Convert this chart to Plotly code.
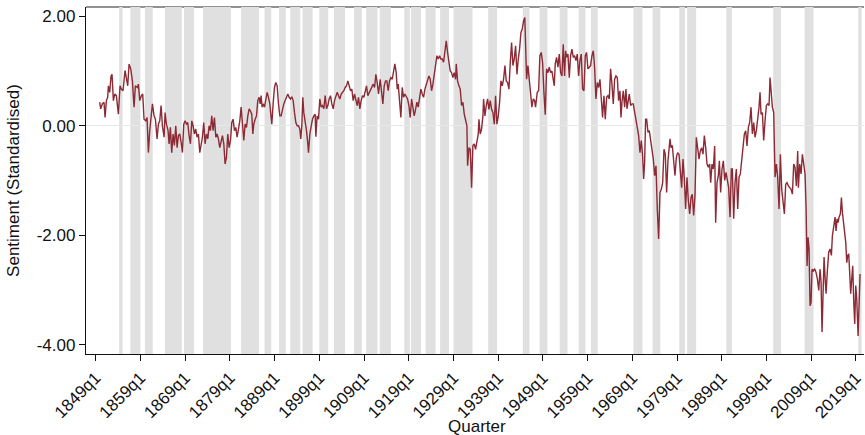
import plotly.graph_objects as go

# Time (decimal years, quarter resolution) and standardised sentiment values
quarter_time = [
    1849.89, 1850.12, 1850.49, 1850.86, 1851.09, 1851.39, 1851.68, 1851.83, 1852.13, 1852.43,
    1852.65, 1852.95, 1853.25, 1853.62, 1854.07, 1854.44, 1854.74, 1855.11, 1855.56, 1855.86,
    1856.16, 1856.46, 1856.83, 1857.20, 1857.58, 1857.87, 1858.32, 1858.55, 1858.84, 1859.22,
    1859.51, 1859.81, 1860.19, 1860.48, 1860.78, 1861.08, 1861.38, 1861.68, 1862.05, 1862.35,
    1862.72, 1863.02, 1863.32, 1863.62, 1863.91, 1864.29, 1864.51, 1864.81, 1865.18, 1865.41,
    1865.70, 1866.00, 1866.30, 1866.60, 1866.90, 1867.20, 1867.49, 1867.79, 1868.16, 1868.39,
    1868.69, 1868.99, 1869.28, 1869.58, 1869.88, 1870.18, 1870.48, 1870.77, 1871.07, 1871.37,
    1871.67, 1871.97, 1872.27, 1872.56, 1872.86, 1873.16, 1873.46, 1873.76, 1874.06, 1874.35,
    1874.65, 1874.95, 1875.25, 1875.55, 1875.85, 1876.14, 1876.44, 1876.74, 1877.04, 1877.34,
    1877.64, 1877.93, 1878.23, 1878.53, 1878.83, 1879.13, 1879.43, 1879.72, 1880.02,
    1880.32, 1880.62, 1880.92, 1881.22, 1881.52, 1881.81, 1882.11, 1882.41, 1882.71, 1883.01,
    1883.31, 1883.60, 1883.90, 1884.13, 1884.35, 1884.65, 1884.95, 1885.24, 1885.54, 1885.77,
    1885.99, 1886.21, 1886.44, 1886.74, 1887.03, 1887.33, 1887.63, 1887.93, 1888.23, 1888.38,
    1888.67, 1888.97, 1889.27, 1889.57, 1889.87, 1890.17, 1890.46, 1890.76, 1891.06, 1891.36,
    1891.66, 1891.96, 1892.25, 1892.55, 1892.85, 1893.15, 1893.45, 1893.75, 1894.04, 1894.34,
    1894.64, 1894.86, 1895.09, 1895.31, 1895.53, 1895.83, 1896.13, 1896.43, 1896.58, 1896.88,
    1897.18, 1897.47, 1897.77, 1898.07, 1898.22, 1898.52, 1898.82, 1899.11, 1899.41, 1899.71,
    1900.01, 1900.31, 1900.61, 1900.90, 1901.20, 1901.50, 1901.80, 1902.10, 1902.40, 1902.69,
    1902.99, 1903.29, 1903.59, 1903.89, 1904.19, 1904.48, 1904.78, 1905.08, 1905.38, 1905.68,
    1905.98, 1906.27, 1906.57, 1906.87, 1907.17, 1907.47, 1907.77, 1908.06, 1908.36, 1908.66,
    1908.96, 1909.26, 1909.55, 1909.85, 1910.15, 1910.45, 1910.75, 1911.05, 1911.35, 1911.64,
    1911.94, 1912.24,
    1912.61, 1912.91, 1913.21, 1913.51, 1913.81, 1914.10, 1914.40, 1914.70, 1915.00, 1915.30,
    1915.60, 1915.89, 1916.19, 1916.42, 1916.64, 1916.94, 1917.24, 1917.53, 1917.83, 1918.13,
    1918.43, 1918.73, 1919.03, 1919.32, 1919.62, 1919.92, 1920.22, 1920.52, 1920.82, 1921.11,
    1921.41, 1921.71, 1922.01, 1922.31, 1922.61, 1922.90, 1923.20, 1923.50, 1923.80, 1924.10,
    1924.40, 1924.69, 1924.99, 1925.29, 1925.59, 1925.89, 1926.18, 1926.48, 1926.78, 1927.08,
    1927.38, 1927.68, 1927.97, 1928.27, 1928.57, 1928.87, 1929.17, 1929.47, 1929.62, 1929.91,
    1930.21, 1930.51, 1930.81, 1931.11, 1931.41, 1931.70, 1932.00, 1932.15, 1932.45, 1932.75,
    1933.05, 1933.34, 1933.64, 1933.94, 1934.24, 1934.54, 1934.69, 1934.98, 1935.28, 1935.58,
    1935.73, 1936.03, 1936.33, 1936.63, 1936.92, 1937.22, 1937.52, 1937.82, 1938.12, 1938.41,
    1938.71, 1939.01, 1939.31, 1939.61, 1939.91, 1940.20, 1940.50, 1940.80, 1941.10, 1941.40,
    1941.70, 1941.99, 1942.29, 1942.59, 1942.89, 1943.19, 1943.49, 1943.78, 1944.08, 1944.38,
    1944.68, 1944.95,
    1945.34, 1945.64, 1945.94, 1946.24, 1946.53, 1946.83, 1947.13, 1947.35, 1947.73, 1948.03,
    1948.32, 1948.62, 1948.92, 1949.22, 1949.52, 1949.82, 1950.11, 1950.41, 1950.71, 1951.01,
    1951.31, 1951.53, 1951.75, 1952.05, 1952.35, 1952.65, 1952.95, 1953.25, 1953.54, 1953.84,
    1954.07, 1954.29, 1954.59, 1954.89, 1955.18, 1955.48, 1955.78, 1956.08, 1956.38, 1956.68,
    1956.97, 1957.27, 1957.57, 1957.87, 1958.17, 1958.47, 1958.76, 1959.06, 1959.36, 1959.66,
    1959.96, 1960.26, 1960.55, 1960.85, 1961.15, 1961.45, 1961.75, 1962.05, 1962.34, 1962.64,
    1962.94, 1963.24, 1963.54, 1963.84, 1964.13, 1964.43, 1964.73, 1965.03, 1965.33, 1965.63,
    1965.92, 1966.22, 1966.45, 1966.67, 1966.97, 1967.27, 1967.56, 1967.79, 1968.01, 1968.31,
    1968.61, 1968.91, 1969.20, 1969.50, 1969.80, 1970.10, 1970.40, 1970.70, 1970.99, 1971.29,
    1971.52, 1971.74, 1971.96, 1972.19, 1972.49, 1972.78, 1973.08, 1973.38, 1973.68, 1973.98,
    1974.28, 1974.57, 1974.87, 1975.17, 1975.47, 1975.77, 1976.07, 1976.36, 1976.66, 1976.96,
    1977.26,
    1977.41, 1977.63, 1977.93, 1978.23, 1978.53, 1978.83, 1979.12, 1979.42, 1979.72, 1980.02,
    1980.32, 1980.62, 1980.91, 1981.21, 1981.51, 1981.81, 1982.11, 1982.40, 1982.70, 1983.00,
    1983.30, 1983.60, 1983.90, 1984.19, 1984.49, 1984.79, 1985.09, 1985.39, 1985.69, 1985.98,
    1986.28, 1986.51, 1986.80, 1987.10, 1987.40, 1987.62, 1987.92, 1988.22, 1988.45, 1988.74,
    1989.04, 1989.34, 1989.64, 1989.94, 1990.23, 1990.53, 1990.83, 1991.13, 1991.35, 1991.65,
    1991.95, 1992.25, 1992.55, 1992.85, 1993.14, 1993.44, 1993.74, 1994.04, 1994.34, 1994.63,
    1994.93, 1995.23, 1995.53, 1995.83, 1996.13, 1996.42, 1996.72, 1997.02, 1997.32, 1997.54,
    1997.77, 1998.07, 1998.36, 1998.66, 1998.96, 1999.26, 1999.56, 1999.78, 2000.00, 2000.30,
    2000.60, 2000.90, 2001.20, 2001.49, 2001.79, 2002.09, 2002.39, 2002.69, 2002.99, 2003.28,
    2003.58, 2003.88, 2004.18, 2004.48, 2004.78, 2005.07, 2005.37, 2005.67, 2005.97, 2006.12,
    2006.42, 2006.72, 2007.01, 2007.31, 2007.61,
    2007.83, 2008.06, 2008.28, 2008.50, 2008.73, 2008.95, 2009.17, 2009.47, 2009.77, 2010.07,
    2010.37, 2010.67, 2010.96, 2011.19, 2011.41, 2011.64, 2011.86, 2012.08, 2012.31, 2012.60,
    2012.90, 2013.20, 2013.50, 2013.72, 2014.02, 2014.32, 2014.54, 2014.77, 2014.99, 2015.21,
    2015.51, 2015.74, 2015.96, 2016.26, 2016.48, 2016.71, 2016.93, 2017.15, 2017.38, 2017.60,
    2017.82, 2018.05, 2018.27, 2018.50, 2018.72, 2018.94, 2019.17, 2019.47, 2019.69, 2019.91,
]

sentiment = [
    0.43, 0.31, 0.40, 0.43, 0.15, 0.46, 0.52, 0.73, 0.61, 0.91,
    0.94, 0.46, 0.58, 0.55, 0.21, 0.73, 0.67, 0.64, 1.01, 0.88,
    0.73, 1.13, 1.04, 0.82, 0.34, 0.73, 0.70, 0.76, 0.46, 0.55,
    0.58, 0.12, 0.09, 0.15, -0.49, -0.09, 0.12, 0.40, 0.18, 0.12,
    -0.24, 0.03, 0.09, 0.37, 0.00, -0.21, 0.24, 0.03, -0.09, -0.33,
    -0.03, -0.49, -0.15, -0.36, 0.00, -0.40, -0.18, -0.15, -0.33, -0.49,
    0.03, 0.09, 0.03, 0.06, -0.18, -0.33, 0.09, 0.00, -0.15, -0.06,
    -0.21, -0.15, -0.49, -0.33, -0.21, 0.06, -0.33, -0.15, -0.24, 0.00,
    -0.09, 0.18, -0.09, 0.15, -0.21, -0.15, -0.24, -0.40, -0.27, -0.18,
    -0.33, -0.70, -0.58, -0.15, -0.40, -0.27, 0.06, 0.12, -0.09,
    -0.03, -0.21, -0.09, 0.09, 0.34, 0.03, -0.27, 0.03, -0.03, 0.18,
    0.31, 0.27, 0.21, -0.15, 0.03, 0.12, 0.18, 0.46, 0.52, 0.40,
    0.55, 0.34, 0.40, 0.34, 0.52, 0.61, 0.52, 0.40, 0.15, 0.03,
    0.40, 0.70, 0.79, 0.73, 0.40, 0.18, 0.18, 0.31, 0.40, 0.46,
    0.53, 0.58, 0.52, 0.49, 0.53, 0.46, 0.24, 0.06, 0.00, 0.00,
    -0.06, -0.24, 0.00, 0.52, 0.24, 0.09, -0.09, -0.33, -0.49, -0.15,
    0.03, 0.12, 0.18, 0.21, -0.20, 0.18, 0.12, 0.49, 0.34, 0.37,
    0.31, 0.55, 0.31, 0.37, 0.49, 0.55, 0.40, 0.31, 0.46, 0.52,
    0.61, 0.55, 0.49, 0.58, 0.61, 0.64, 0.70, 0.73, 0.82, 0.73,
    0.64, 0.67, 0.46, 0.58, 0.49, 0.37, 0.52, 0.31, 0.46, 0.55,
    0.52, 0.64, 0.73, 0.55, 0.61, 0.64, 0.73, 0.76, 0.70, 0.94,
    0.79, 0.58,
    0.85, 0.67, 0.40, 0.73, 0.82, 0.82, 0.64, 0.82, 0.88, 0.85,
    0.97, 1.13, 0.97, 0.67, 0.76, 0.49, 0.15, 0.70, 0.52, 0.58,
    0.52, 0.49, 0.37, 0.15, 0.49, 0.30, 0.18, 0.30, 0.43, 0.34,
    0.52, 0.67, 0.58, 0.52, 0.67, 0.76, 0.85, 0.91, 0.85, 0.64,
    0.76, 0.91, 1.10, 1.28, 1.22, 1.28, 1.22, 1.22, 1.16, 1.37,
    1.55, 1.34, 1.13, 1.00, 0.97, 0.88, 0.97, 0.85, 1.13, 0.82,
    0.73, 0.67, 0.37, 0.43, 0.21, 0.12, 0.00, -0.73, -0.40, -0.43,
    -1.13, -0.36, -0.33, -0.43, -0.27, -0.15, 0.12, -0.15, -0.06, 0.18,
    0.49, 0.18, 0.37, 0.49, 0.30, 0.46, 0.30, 0.24, 0.03, 0.55,
    0.03, 0.18, 0.43, 0.82, 0.73, 0.85, 1.10, 0.82, 0.79, 0.67,
    1.16, 1.52, 1.10, 1.22, 1.46, 0.94, 1.22, 1.40, 1.70, 1.77,
    1.92, 1.98,
    0.85, 1.10, 0.85, 0.55, 0.34, 0.49, 0.46, 0.34, 0.61, 0.64,
    1.28, 1.34, 1.16, 0.61, 0.20, 1.04, 0.97, 1.07, 0.97, 1.00,
    0.88, 0.73, 1.13, 1.25, 1.07, 1.31, 0.97, 0.91, 1.49, 0.91,
    1.37, 1.25, 1.31, 0.88, 1.28, 1.40, 1.25, 1.28, 1.19, 1.31,
    0.91, 1.19, 1.31, 0.67, 0.64, 1.28, 1.34, 1.04, 1.07, 1.10,
    1.28, 1.37, 1.07, 0.49, 0.79, 0.70, 0.85, 0.49, 0.15, 0.55,
    0.12, 0.52, 0.55, 0.49, 1.04, 0.76, 0.40, 0.85, 0.91, 0.88,
    0.46, 0.64, 0.15, 0.43, 0.64, 0.34, 0.67, 0.31, 0.43, 0.58,
    0.37, 0.40, 0.40, 0.24, 0.09, -0.06, -0.18, -0.49, -0.27, -0.55,
    -0.97, -0.67, 0.12, 0.12, -0.12, -0.09, -0.24, -0.43, -0.61, -0.91,
    -0.73, -1.52, -2.07, -1.22, -1.16, -1.04, -0.43, -0.52, -1.22, -0.64,
    -0.27,
    -0.24, -0.40, -0.36, -0.64, -0.91, -0.58, -0.49, -0.52, -0.76, -1.13,
    -0.61, -0.97, -1.52, -0.94, -1.37, -1.61, -1.31, -1.25, -1.64, -1.28,
    -0.21, -0.37, -0.61, -0.46, -0.40, -0.52, -0.18, -0.40, -0.70, -0.76,
    -0.70, -1.04, -0.70, -0.79, -0.37, -1.77, -1.04, -0.91, -0.64, -1.22,
    -0.79, -0.64, -1.00, -0.85, -1.00, -1.13, -1.67, -0.79, -0.79, -1.70,
    -1.04, -0.79, -1.52, -0.94, -0.88, -0.64, -0.33, -0.15, -0.09, -0.37,
    -0.03, 0.06, 0.34, -0.15, 0.06, -0.21, -0.09, 0.12, 0.34, 0.61,
    0.21, 0.24, -0.27, 0.09, 0.37, 0.40, 0.37, 0.88, 0.64, 0.34,
    0.24, -0.94, -0.70, -0.94, -1.52, -0.52, -1.16, -1.43, -1.61, -1.07,
    -1.04, -1.10, -1.13, -1.16, -1.25, -0.70, -0.76, -1.10, -0.46, -1.13,
    -0.70, -0.88, -0.52, -0.67, -0.88,
    -1.46, -2.56, -2.04, -2.25, -3.29, -3.23, -2.62, -2.65, -2.62, -2.68,
    -2.80, -3.01, -2.62, -2.86, -3.77, -2.74, -2.40, -2.77, -3.07, -2.65,
    -2.31, -2.25, -2.37, -2.01, -1.83, -1.67, -1.92, -1.70, -1.77, -1.67,
    -1.61, -1.31, -1.58, -1.86, -1.95, -2.13, -2.50, -2.37, -2.34, -2.68,
    -3.07, -2.80, -2.56, -3.23, -3.62, -2.92, -3.16, -3.84, -3.11, -2.71,
]

# Recession periods (shaded), start / end in decimal years
recession_start = [1854.25, 1856.75, 1860.0, 1864.5, 1868.75, 1873.0, 1881.5, 1886.75, 1890.0,
                   1892.5, 1895.25, 1899.0, 1902.25, 1906.75, 1909.5, 1912.5, 1918.0, 1919.5,
                   1922.75, 1926.0, 1929.0, 1936.75, 1944.5, 1948.25, 1952.75, 1957.0, 1959.75,
                   1969.25, 1973.5, 1979.5, 1981.25, 1990.0, 2000.5, 2007.5, 2019.5]
recession_end = [1855.0, 1859.0, 1861.75, 1868.25, 1871.0, 1879.25, 1885.5, 1888.25, 1891.5,
                 1894.75, 1897.5, 1901.0, 1904.75, 1908.5, 1912.0, 1915.0, 1919.25, 1921.75,
                 1925.0, 1928.0, 1933.25, 1938.75, 1946.0, 1950.0, 1954.5, 1958.5, 1961.25,
                 1971.25, 1975.25, 1980.75, 1983.25, 1991.25, 2002.25, 2009.5, 2020.25]

tick_years = [1849, 1859, 1869, 1879, 1889, 1899, 1909, 1919, 1929, 1939, 1949, 1959,
              1969, 1979, 1989, 1999, 2009, 2019]
tick_labels = [f"{y}q1" for y in tick_years]
y_ticks = [-4, -2, 0, 2]
y_tick_labels = ["-4.00", "-2.00", "0.00", "2.00"]

FONT = "Liberation Sans, Arial, Helvetica, sans-serif"

fig = go.Figure()

shapes = [dict(type="line", xref="paper", yref="paper", x0=0, x1=1, y0=1, y1=1,
               line=dict(color="#6e6e6e", width=1.5), layer="below")]
for s, e in zip(recession_start, recession_end):
    shapes.append(dict(type="rect", xref="x", yref="paper", x0=s, x1=e, y0=0, y1=1,
                       fillcolor="#e0e0e0", line=dict(width=0), layer="below"))

fig.add_trace(go.Scatter(x=quarter_time, y=sentiment, mode="lines",
                         line=dict(color="#8c2a35", width=1.4), showlegend=False,
                         hoverinfo="skip"))

fig.update_layout(
    width=865, height=435,
    margin=dict(l=86, r=1, t=7, b=81),
    paper_bgcolor="white", plot_bgcolor="white",
    font=dict(family=FONT, size=17, color="#111111"),
    shapes=shapes,
    xaxis=dict(range=[1846.83, 2020.79], tickvals=tick_years, ticktext=tick_labels,
               tickangle=-45, ticks="outside", ticklen=6, tickwidth=1.3, tickcolor="#111111",
               showline=True, linecolor="#111111", linewidth=1.3, showgrid=False,
               zeroline=False, tickfont=dict(size=17), automargin=False),
    yaxis=dict(range=[-4.17, 2.17], tickvals=y_ticks, ticktext=y_tick_labels,
               ticks="outside", ticklen=6, tickwidth=1.3, tickcolor="#111111",
               showline=True, linecolor="#111111", linewidth=1.3, showgrid=False,
               zeroline=True, zerolinecolor="#e8e8e8", zerolinewidth=1.2,
               tickfont=dict(size=17), automargin=False,
               title=dict(text="Sentiment (Standardised)", font=dict(size=17), standoff=12)),
    annotations=[dict(text="Quarter", xref="paper", yref="paper", x=0.503, y=-0.2075,
                      xanchor="center", yanchor="middle", showarrow=False, borderpad=0,
                      font=dict(size=17, family=FONT, color="#111111"))],
)

fig.write_html("out.html")
